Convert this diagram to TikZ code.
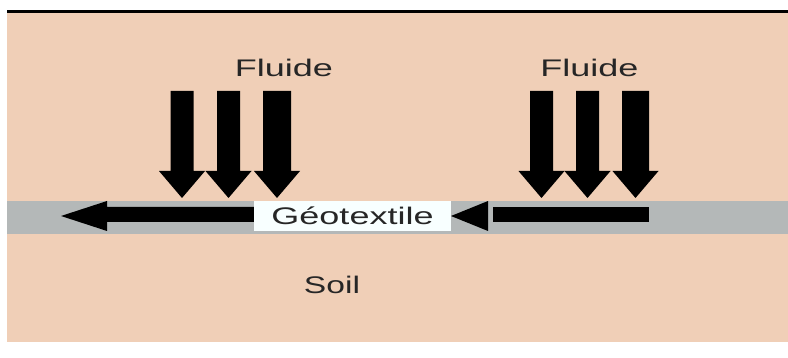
\documentclass[tikz,border=0pt]{standalone}
\usepackage{fontspec}
\setmainfont{Liberation Sans}
\definecolor{soilpeach}{HTML}{F0CFB7}
\definecolor{geogray}{HTML}{B4B8B8}
\definecolor{labelwhite}{HTML}{F8FFFF}

\begin{document}
\begin{tikzpicture}[x=1pt,y=-1pt,
  labeltext/.style={font=\fontsize{24}{28}\selectfont, inner sep=0pt, text=black!85},
  geobox/.style={labeltext, fill=labelwhite, minimum width=197pt, minimum height=30pt},
  % downward flow arrow: shaft half-width #1, top at local origin
  pics/flowarrow/.style={code={
    \fill[black] (-#1,0) -- (#1,0) -- (#1,80) -- (23,80) -- (0,107) -- (-23,80) -- (-#1,80) -- cycle;
  }}]
  \useasboundingbox (0,0) rectangle (788,358);

  % soil background and surface line
  \fill[soilpeach] (7,13) rectangle (788,342);
  \fill[black] (7,10) rectangle (788,13);

  % geotextile layer
  \fill[geogray] (7,201) rectangle (788,234);

  % fluid entering from above
  \foreach \cx/\hw in {182/11.5, 228.5/11.5, 277/14, 541.5/11.5, 587.5/11.5, 635.5/13.5}
    \pic at (\cx,91) {flowarrow=\hw};

  % in-plane flow along the geotextile
  \fill[black] (61,216) -- (107,201) -- (107,207) -- (256,207) -- (256,222) -- (107,222) -- (107,231) -- cycle;
  \fill[black] (451,216) -- (488,201) -- (488,231) -- cycle;
  \fill[black] (493,207) rectangle (649,222);

  % labels
  \node[labeltext] (fluideL) at (284,67.5) {\scalebox{1.5}[1]{Fluide}};
  \node[labeltext] (fluideR) at (589.5,67.5) {\scalebox{1.5}[1]{Fluide}};
  \node[geobox] (geo) at (352.5,216) {\scalebox{1.5}[1]{Géotextile}};
  \node[labeltext] (soil) at (332,284.5) {\scalebox{1.4}[1]{Soil}};
\end{tikzpicture}
\end{document}
